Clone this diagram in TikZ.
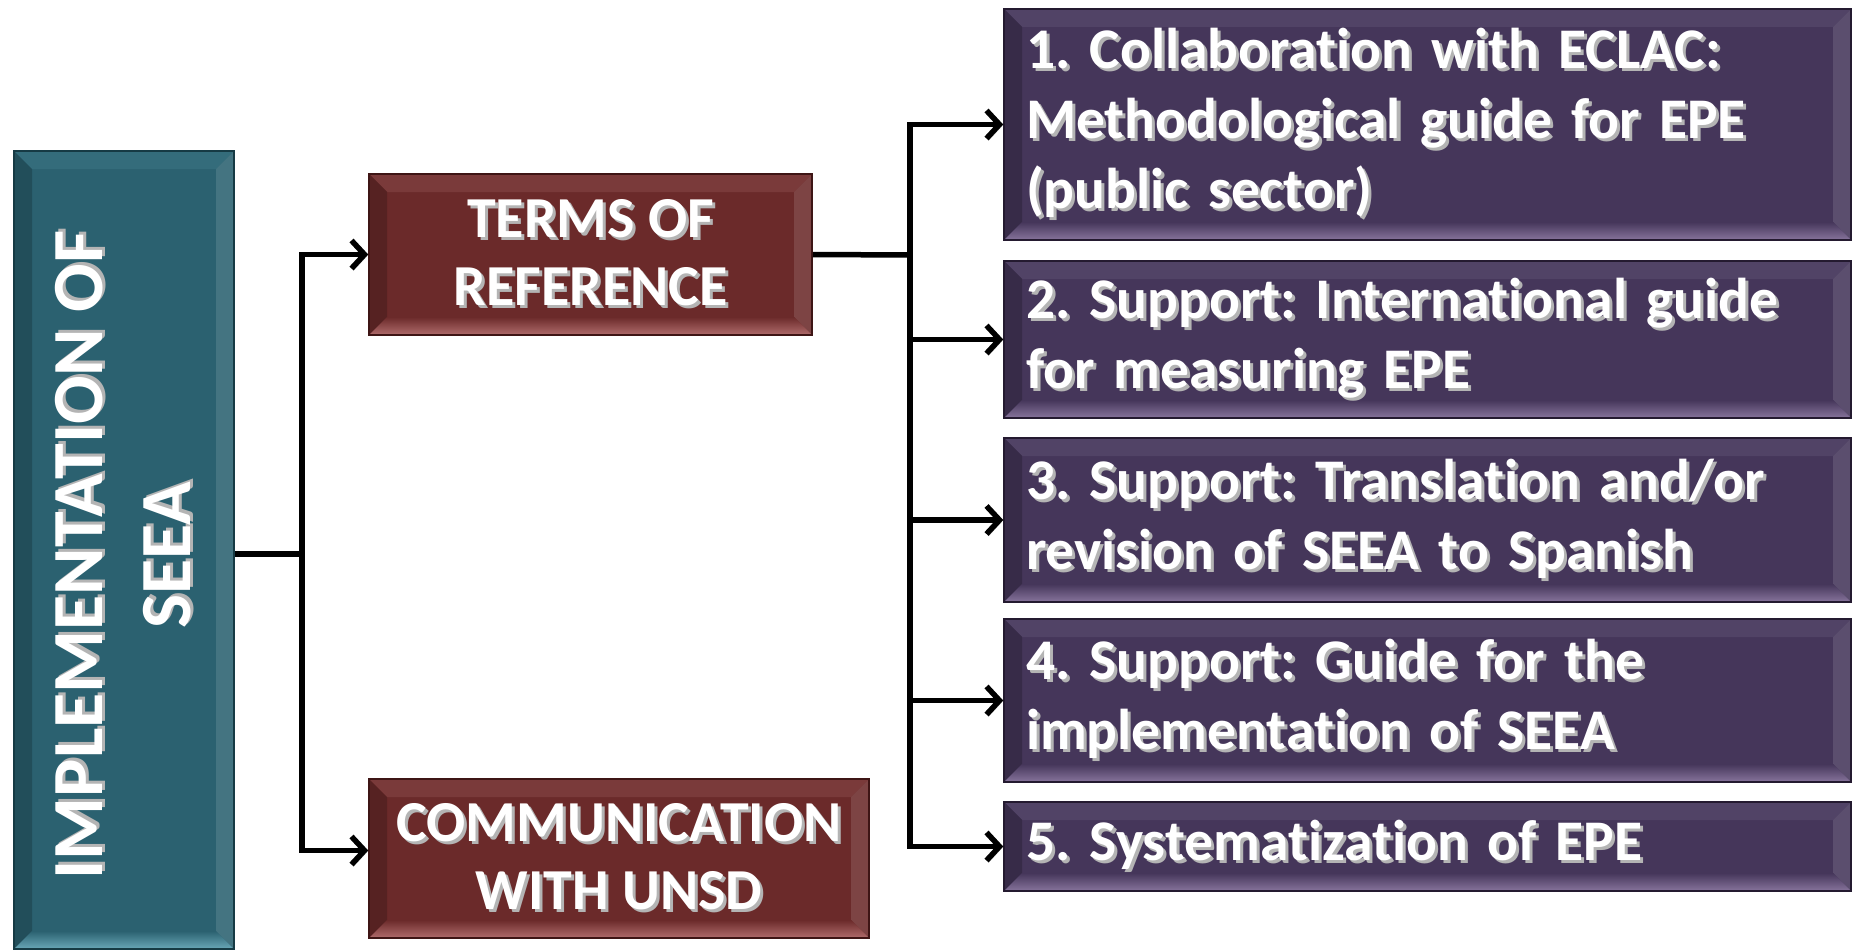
\documentclass[tikz,border=0pt]{standalone}
\usepackage{fontspec}
\setmainfont{Carlito}[Ligatures=NoCommon]
\usetikzlibrary{arrows.meta}
\frenchspacing
\definecolor{tealM}{HTML}{2B6170}
\definecolor{tealT}{HTML}{346C7B}
\definecolor{tealB}{HTML}{6AA8B8}
\definecolor{tealD}{HTML}{163A44}
\definecolor{marM}{HTML}{6B2A2A}
\definecolor{marT}{HTML}{7A3A3A}
\definecolor{marB}{HTML}{B06C6C}
\definecolor{marD}{HTML}{3E1515}
\definecolor{purM}{HTML}{45365A}
\definecolor{purT}{HTML}{514366}
\definecolor{purB}{HTML}{87749C}
\definecolor{purD}{HTML}{241A30}
\definecolor{shd}{HTML}{B4B4B4}
\newcommand{\shtxt}[1]{\leavevmode\makebox[0pt][l]{\hspace{3pt}\raisebox{-3pt}{\color{shd}#1}}#1}
\tikzset{
  bev/.style n args={4}{fill=#1, draw=#4, line width=1.5pt,
    path picture={
      \fill[#2] (path picture bounding box.north west) -- (path picture bounding box.north east)
        -- ([shift={(-18pt,-18pt)}]path picture bounding box.north east)
        -- ([shift={(18pt,-18pt)}]path picture bounding box.north west) -- cycle;
      \fill[#1!80!black] (path picture bounding box.north west) -- ([shift={(18pt,-18pt)}]path picture bounding box.north west)
        -- ([shift={(18pt,18pt)}]path picture bounding box.south west) -- (path picture bounding box.south west) -- cycle;
      \fill[#1!88!white] (path picture bounding box.north east) -- ([shift={(-18pt,-18pt)}]path picture bounding box.north east)
        -- ([shift={(-18pt,18pt)}]path picture bounding box.south east) -- (path picture bounding box.south east) -- cycle;
      \shade[top color=#1, bottom color=#3] ([shift={(18pt,18pt)}]path picture bounding box.south west)
        -- ([shift={(-18pt,18pt)}]path picture bounding box.south east)
        -- (path picture bounding box.south east) -- (path picture bounding box.south west) -- cycle;
    }},
  tealbox/.style={bev={tealM}{tealT}{tealB}{tealD}},
  marbox/.style={bev={marM}{marT}{marB}{marD}, text=white, align=center,
    font=\fontsize{58}{68}\selectfont\bfseries, inner sep=0pt},
  purbox/.style={bev={purM}{purT}{purB}{purD}, text=white, align=left,
    font=\fontsize{57.5}{70}\selectfont\bfseries, text width=803pt, inner xsep=22pt, inner ysep=0pt,
    minimum width=847pt},
  conn/.style={line width=5.5pt, black, preaction={draw=gray!60, transform canvas={shift={(2pt,-2pt)}}}},
  arr/.style={conn, -{Straight Barb[length=13pt,width=28pt]}}
}
\begin{document}
\begin{tikzpicture}[x=1pt,y=-1pt]
\useasboundingbox (0,0) rectangle (1857,950);
\node[tealbox, minimum width=220pt, minimum height=798pt, inner sep=0pt] (imp) at (124,550) {};
\node[rotate=90, text=white, align=center, font=\fontsize{72}{88}\selectfont\bfseries] (impt) at (125,555)
  {\shtxt{IMPLEMENTATION OF}\\\shtxt{SEEA}};
\node[marbox, minimum width=443pt, minimum height=161pt] (tor) at (590.5,254.5)
  {\shtxt{TERMS OF}\\\shtxt{REFERENCE}};
\node[marbox, minimum width=500pt, minimum height=159pt] (com) at (619,858.5)
  {\shtxt{COMMUNICATION}\\\shtxt{WITH UNSD}};
\node[purbox, minimum height=231pt] (b1) at (1427.5,124.5)
  {\shtxt{1. Collaboration with ECLAC:}\\\shtxt{Methodological guide for EPE}\\\shtxt{(public sector)}};
\node[purbox, minimum height=157pt] (b2) at (1427.5,339.5)
  {\shtxt{2. Support: International guide}\\\shtxt{for measuring EPE}};
\node[purbox, minimum height=164pt] (b3) at (1427.5,520)
  {\shtxt{3. Support: Translation and/or}\\\shtxt{revision of SEEA to Spanish}};
\node[purbox, minimum height=163pt] (b4) at (1427.5,700.5)
  {\shtxt{4. Support: Guide for the}\\\shtxt{implementation of SEEA}};
\node[purbox, minimum height=89pt] (b5) at (1427.5,846.5)
  {\shtxt{5. Systematization of EPE}};
\coordinate (j1) at (302,554);
\coordinate (j2) at (910,255);
\draw[conn] (imp.east |- j1) -- (j1);
\draw[arr] (j1) |- (tor.west);
\draw[arr] (j1) |- ([yshift=8pt]com.west);
\draw[conn] (tor.east) -- (j2);
\draw[arr] (j2) |- (b1.west);
\draw[arr] (j2) |- (b2.west);
\draw[arr] (j2) |- (b3.west);
\draw[arr] (j2) |- (b4.west);
\draw[arr] (j2) |- (b5.west);
\end{tikzpicture}
\end{document}
